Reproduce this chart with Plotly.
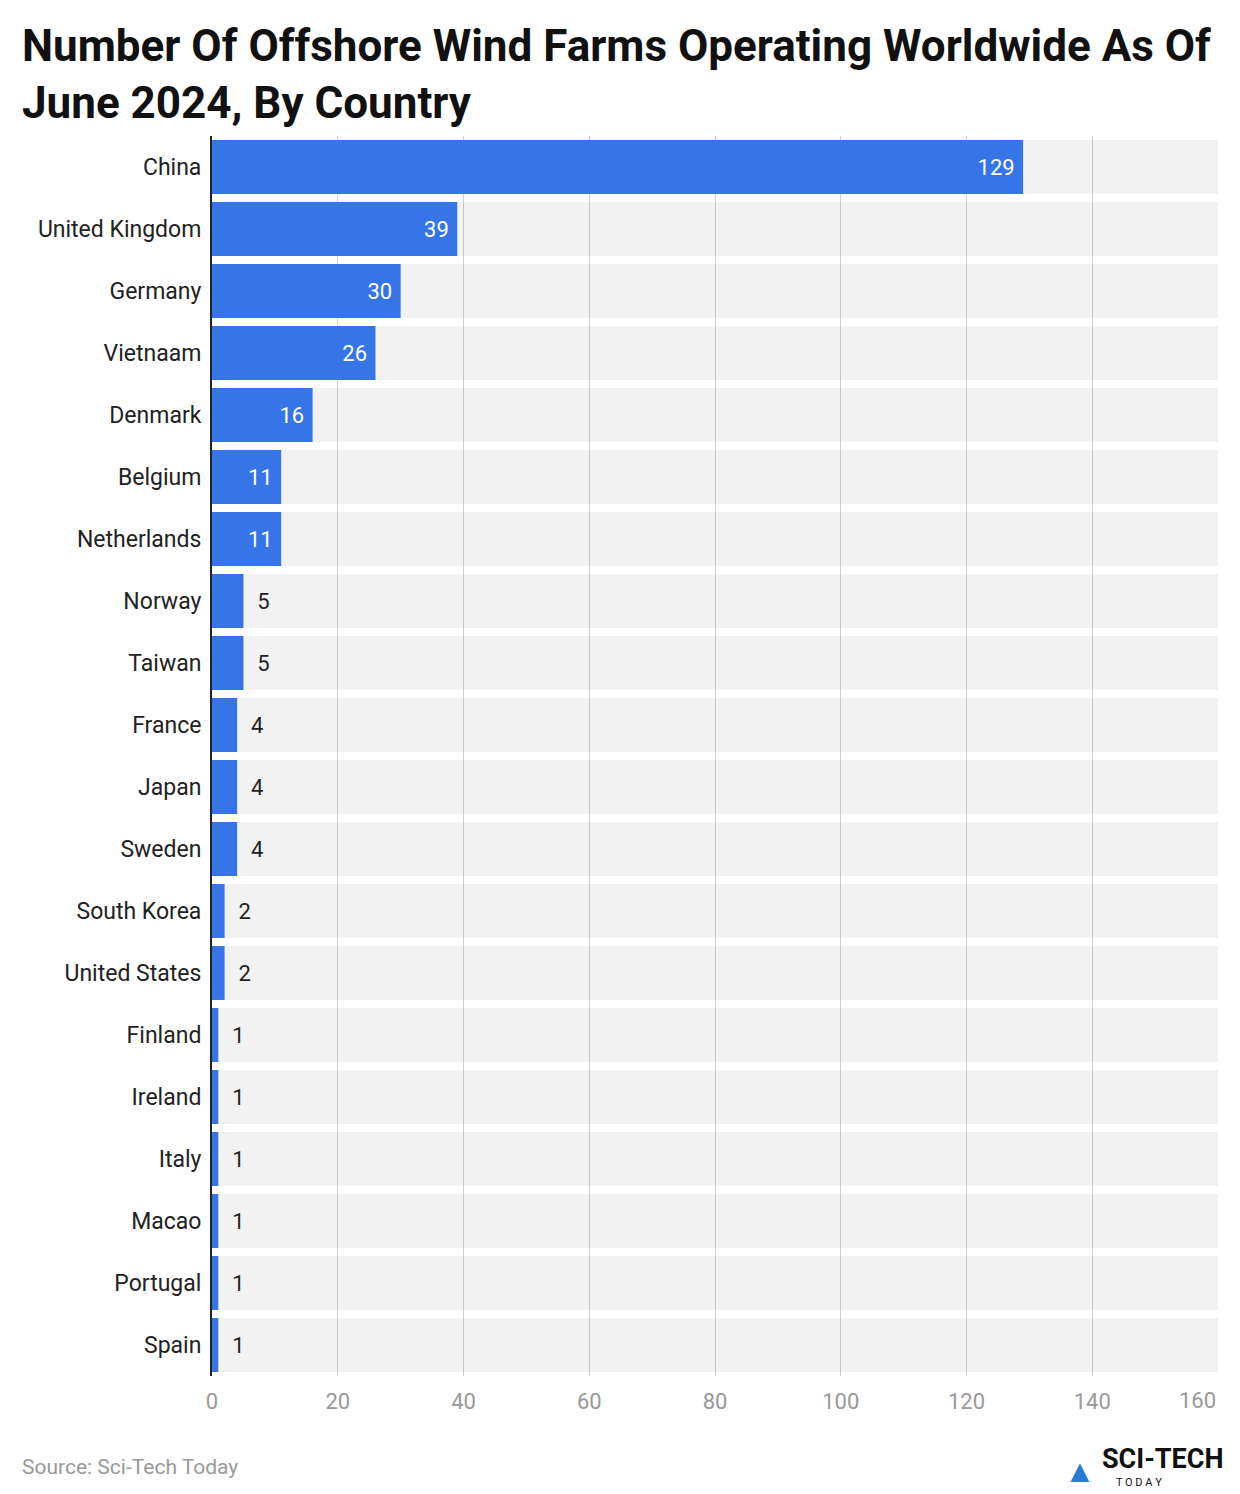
import plotly.graph_objects as go

countries = ["China","United Kingdom","Germany","Vietnaam","Denmark","Belgium","Netherlands","Norway","Taiwan","France","Japan","Sweden","South Korea","United States","Finland","Ireland","Italy","Macao","Portugal","Spain"]
values = [129,39,30,26,16,11,11,5,5,4,4,4,2,2,1,1,1,1,1,1]
axis_max = 160
tick_vals = [0, 20, 40, 60, 80, 100, 120, 140, 160]

n = len(countries)
L, R, T, B = 204, 30, 128, 126
PW, PH = 1240 - L - R, 1494 - T - B
fig = go.Figure()
fig.add_trace(go.Bar(y=countries, x=[axis_max]*n, orientation="h",
                     marker=dict(color="rgba(0,0,0,0.05)", line_width=0), hoverinfo="skip", showlegend=False))
positions = ["inside" if v >= 10 else "outside" for v in values]
fig.add_trace(go.Bar(y=countries, x=values, orientation="h",
                     marker=dict(color="#3575e8", line_width=0), showlegend=False,
                     text=[str(v) + " " if v >= 10 else "  " + str(v) for v in values],
                     textposition=positions, insidetextanchor="end",
                     textfont=dict(size=22, family="Roboto"),
                     insidetextfont=dict(color="white", size=22, family="Roboto"),
                     outsidetextfont=dict(color="#222", size=22, family="Roboto"),
                     cliponaxis=False))
fig.update_layout(
    width=1240, height=1494, barmode="overlay", bargap=0.13,
    plot_bgcolor="white", paper_bgcolor="white",
    margin=dict(l=L, r=R, t=T, b=B, pad=0),
    font=dict(family="Roboto", color="#222"),
    xaxis=dict(range=[0, axis_max], tickvals=tick_vals,
               ticktext=[str(v) if v < axis_max else "" for v in tick_vals],
               showgrid=True, gridcolor="#d0d0d0", gridwidth=1, ticklabelstandoff=10,
               tickfont=dict(size=22, color="#999"), zeroline=False, automargin=False),
    yaxis=dict(autorange="reversed", tickfont=dict(size=23, color="#222"), ticklabelstandoff=4,
               showline=True, linecolor="#222", linewidth=2, automargin=False),
)
fig.add_annotation(text=str(axis_max), xref="x", yref="paper", x=axis_max, y=-10/PH,
                   xanchor="right", yanchor="top", showarrow=False, font=dict(size=22, color="#999"))
fig.add_annotation(text="<b>Number Of Offshore Wind Farms Operating Worldwide As Of<br>June 2024, By Country</b>",
                   xref="paper", yref="paper", x=(12 - L)/PW, y=1 + (T - 10)/PH, xanchor="left", yanchor="top",
                   align="left", showarrow=False, font=dict(size=44, color="#111"))
fig.add_annotation(text="Source: Sci-Tech Today", xref="paper", yref="paper", x=(12 - L)/PW, y=-91/PH,
                   xanchor="left", yanchor="middle", showarrow=False, font=dict(size=21, color="#999"))
fig.add_annotation(text="<b>SCI-TECH</b>", xref="paper", yref="paper", x=(1217 - L)/PW, y=-83/PH,
                   xanchor="right", yanchor="middle", showarrow=False, font=dict(size=27, color="#111"))
fig.add_annotation(text="T O D A Y", xref="paper", yref="paper", x=(1156 - L)/PW, y=-107/PH,
                   xanchor="right", yanchor="middle", showarrow=False, font=dict(size=11, color="#111"))
fig.add_annotation(text="<b>▲</b>", xref="paper", yref="paper", x=(1090 - L)/PW, y=-95/PH,
                   xanchor="right", yanchor="middle", showarrow=False, font=dict(size=32, color="#2a7bd8"))
fig.write_html("out.html")
